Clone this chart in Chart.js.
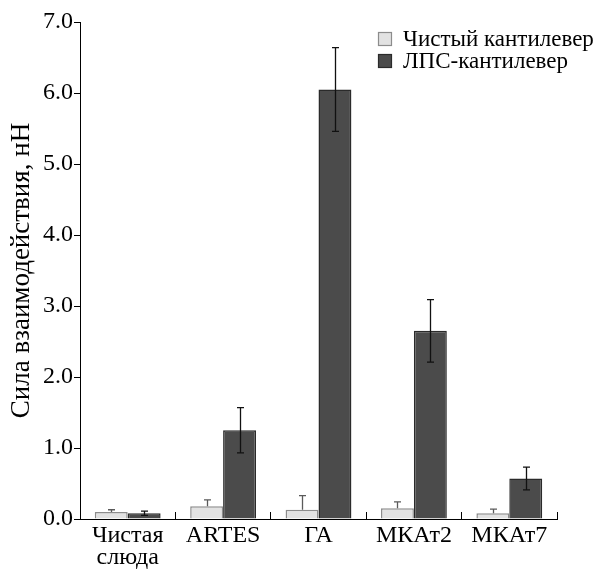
<!DOCTYPE html>
<html>
<head>
<meta charset="utf-8">
<script src="https://cdn.jsdelivr.net/npm/chart.js@4"></script>
<style>
    body { margin: 0; background: #fff; }
</style>
</head>
<body>
<canvas id="forceChart" width="610" height="569"></canvas>
<script>
// Données
const CATEGORIES = [["Чистая", "слюда"], "ARTES", "ГА", "МКАт2", "МКАт7"];
const SERIES_NAMES = ["Чистый кантилевер", "ЛПС-кантилевер"];
const CLEAN_VALUES = [0.10, 0.18, 0.13, 0.15, 0.08];
const CLEAN_ERRORS = [0.03, 0.09, 0.20, 0.09, 0.06];
const LPS_VALUES = [0.08, 1.25, 6.05, 2.65, 0.57];
const LPS_ERRORS = [0.03, 0.32, 0.59, 0.44, 0.16];
const Y_TICKS = [0, 1, 2, 3, 4, 5, 6, 7];

const SERIF = "'Liberation Serif', 'Times New Roman', serif";

// Barres d'erreur : claires vers le haut seulement, foncées des deux côtés
const errorBars = {
    id: "errorBars",
    afterDatasetsDraw(chart) {
        const ctx = chart.ctx;
        const y = chart.scales.y;
        const sets = [
            { values: CLEAN_VALUES, errors: CLEAN_ERRORS, color: "#5a5a5a", both: false },
            { values: LPS_VALUES, errors: LPS_ERRORS, color: "#111", both: true },
        ];
        ctx.save();
        ctx.lineWidth = 1.3;
        sets.forEach((s, di) => {
            const meta = chart.getDatasetMeta(di);
            meta.data.forEach((bar, i) => {
                const x = Math.round(bar.x) + 0.5;
                const top = y.getPixelForValue(s.values[i] + s.errors[i]);
                const bottom = s.both
                    ? y.getPixelForValue(s.values[i] - s.errors[i])
                    : y.getPixelForValue(s.values[i]);
                ctx.strokeStyle = s.color;
                ctx.beginPath();
                ctx.moveTo(x, top);
                ctx.lineTo(x, bottom);
                ctx.moveTo(x - 3.5, top);
                ctx.lineTo(x + 3.5, top);
                if (s.both) {
                    ctx.moveTo(x - 3.5, bottom);
                    ctx.lineTo(x + 3.5, bottom);
                }
                ctx.stroke();
            });
        });
        ctx.restore();
    },
};

// Légende dans le coin supérieur droit
const cornerLegend = {
    id: "cornerLegend",
    afterDraw(chart) {
        const ctx = chart.ctx;
        ctx.save();
        ctx.font = "23px " + SERIF;
        ctx.textBaseline = "middle";
        chart.data.datasets.forEach((ds, i) => {
            const cy = 39 + i * 22;
            ctx.fillStyle = ds.backgroundColor;
            ctx.strokeStyle = ds.borderColor;
            ctx.lineWidth = 1.2;
            ctx.fillRect(378.5, cy - 6.5, 13, 13);
            ctx.strokeRect(378.5, cy - 6.5, 13, 13);
            ctx.fillStyle = "#000";
            ctx.fillText(ds.label, 403, cy + 1);
        });
        ctx.restore();
    },
};

document.addEventListener("DOMContentLoaded", function () {
    const ctx = document.getElementById("forceChart").getContext("2d");
    new Chart(ctx, {
        type: "bar",
        data: {
            labels: CATEGORIES,
            datasets: [
                {
                    label: SERIES_NAMES[0],
                    data: CLEAN_VALUES,
                    backgroundColor: "#e2e2e2",
                    borderColor: "#8c8c8c",
                    borderWidth: 1.5,
                    borderSkipped: "bottom",
                },
                {
                    label: SERIES_NAMES[1],
                    data: LPS_VALUES,
                    backgroundColor: "#4b4b4b",
                    borderColor: "#2a2a2a",
                    borderWidth: 1.5,
                    borderSkipped: "bottom",
                },
            ],
        },
        options: {
            responsive: false,
            animation: false,
            layout: { padding: { top: 22, right: 53, left: 0, bottom: 0 } },
            plugins: {
                legend: { display: false },
                tooltip: { enabled: false },
            },
            datasets: {
                bar: { categoryPercentage: 0.69, barPercentage: 1.0 },
            },
            scales: {
                x: {
                    grid: {
                        offset: true,
                        drawOnChartArea: false,
                        tickLength: -7,
                        color: "#000",
                    },
                    border: { color: "#000", width: 1 },
                    ticks: {
                        color: "#000",
                        font: { family: SERIF, size: 24, lineHeight: 0.9 },
                        padding: 13,
                        maxRotation: 0,
                        autoSkip: false,
                    },
                    afterFit: (scale) => { scale.height = 50; },
                },
                y: {
                    min: 0,
                    max: 7,
                    afterBuildTicks: (scale) => {
                        scale.ticks = Y_TICKS.map((v) => ({ value: v }));
                    },
                    grid: {
                        drawOnChartArea: false,
                        tickLength: 6,
                        color: "#000",
                    },
                    border: { color: "#000", width: 1 },
                    ticks: {
                        color: "#000",
                        font: { family: SERIF, size: 24 },
                        padding: 1,
                        callback: (v) => Number(v).toFixed(1),
                    },
                    title: {
                        display: true,
                        text: "Сила взаимодействия, нН",
                        color: "#000",
                        font: { family: SERIF, size: 27 },
                        padding: { top: 6, bottom: 0 },
                    },
                    afterFit: (scale) => { scale.width = 80; },
                },
            },
        },
        plugins: [errorBars, cornerLegend],
    });
});
</script>
</body>
</html>
